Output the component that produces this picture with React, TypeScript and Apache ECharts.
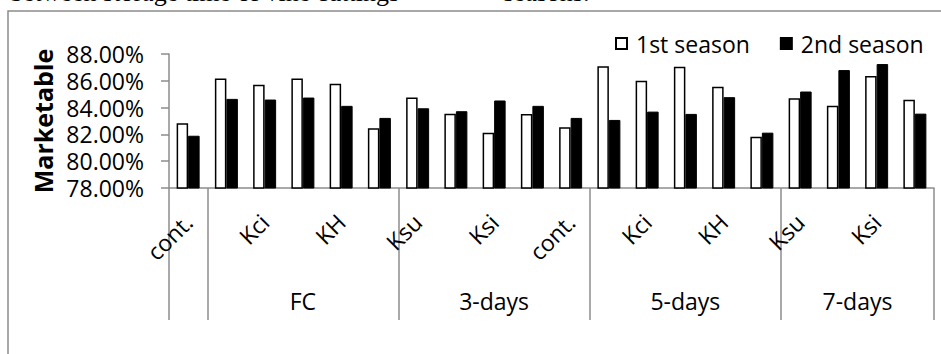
import React, { useEffect, useRef } from "react";
import * as echarts from "echarts";

// Inner category labels (every category; blanks are categories whose label Excel skipped)
const categories = [
  "cont.", "", "Kci", "", "KH", "", "Ksu", "", "Ksi", "",
  "cont.", "", "Kci", "", "KH", "", "Ksu", "", "Ksi", "",
];
// Outer level groups
const groupNames = ["", "FC", "3-days", "5-days", "7-days"];
const groupSizes = [1, 5, 5, 5, 4];

const season1 = [
  82.83, 86.18, 85.7, 86.18, 85.78, 82.45, 84.75, 83.55, 82.13, 83.53,
  82.53, 87.08, 86.0, 87.05, 85.55, 81.83, 84.7, 84.13, 86.35, 84.58,
];
const season2 = [
  81.9, 84.65, 84.6, 84.75, 84.13, 83.23, 83.95, 83.73, 84.53, 84.13,
  83.23, 83.08, 83.7, 83.53, 84.78, 82.13, 85.2, 86.8, 87.25, 83.55,
];
const seriesNames = ["1st season", "2nd season"];
const yTicks = { min: 78, max: 88, interval: 2 };

const FONT = "'Open Sans', sans-serif";
const AXIS_GRAY = "#8c8c8c";

export default function App() {
  const ref = useRef<HTMLDivElement>(null);

  useEffect(() => {
    if (!ref.current) return;
    const chart = echarts.init(ref.current, undefined, { renderer: "svg" });

    // Build the outer (group) axis on a half-category grid: 2*n+1 points
    const n = categories.length;
    const outerData: string[] = new Array(2 * n + 1).fill("");
    const boundaries = new Set<number>();
    let start = 0;
    boundaries.add(0);
    groupNames.forEach((g, i) => {
      const size = groupSizes[i];
      outerData[2 * start + size] = g;
      start += size;
      boundaries.add(2 * start);
    });

    chart.setOption({
      animation: false,
      graphic: [
        {
          type: "rect",
          shape: { x: 8, y: 11, width: 1000, height: 400 },
          style: { fill: "none", stroke: AXIS_GRAY, lineWidth: 1.5 },
          z: -1,
        },
        {
          type: "text",
          x: 10,
          y: 5,
          style: {
            text: "between storage time of vine cuttings",
            font: "26px 'Liberation Serif', serif",
            fill: "#000",
            verticalAlign: "bottom",
          },
        },
        {
          type: "text",
          x: 484,
          y: 5,
          style: {
            text: "– seasons.",
            font: "26px 'Liberation Serif', serif",
            fill: "#000",
            verticalAlign: "bottom",
          },
        },
      ],
      legend: {
        left: 610,
        top: 27,
        icon: "rect",
        itemWidth: 11,
        itemHeight: 11,
        itemGap: 30,
        data: seriesNames,
        textStyle: { fontFamily: FONT, fontSize: 23, color: "#000", padding: [0, 0, 0, 4] },
      },
      grid: { left: 169, right: 7, top: 54, bottom: 166, containLabel: false },
      xAxis: [
        {
          type: "category",
          data: categories,
          boundaryGap: true,
          axisLine: { lineStyle: { color: AXIS_GRAY, width: 1.5 } },
          axisTick: { interval: 0, length: 80, lineStyle: { color: AXIS_GRAY, width: 1.5 } },
          axisLabel: {
            interval: 1,
            rotate: 45,
            margin: 30,
            fontFamily: FONT,
            fontSize: 23,
            color: "#000",
          },
        },
        {
          type: "category",
          data: outerData,
          boundaryGap: false,
          position: "bottom",
          axisLine: { show: false },
          axisTick: {
            interval: (index: number) => boundaries.has(index),
            length: 132,
            lineStyle: { color: AXIS_GRAY, width: 1.5 },
          },
          axisLabel: {
            interval: (_i: number, v: string) => v !== "",
            margin: 101,
            fontFamily: FONT,
            fontSize: 23,
            color: "#000",
          },
        },
      ],
      yAxis: {
        type: "value",
        min: yTicks.min,
        max: yTicks.max,
        interval: yTicks.interval,
        name: "Marketable",
        nameLocation: "middle",
        nameRotate: 90,
        nameGap: 110,
        nameTextStyle: { fontFamily: FONT, fontSize: 25, fontWeight: "bold", color: "#000" },
        axisLine: { show: true, lineStyle: { color: AXIS_GRAY, width: 1.5 } },
        axisTick: { show: true, length: 8, lineStyle: { color: AXIS_GRAY, width: 1.5 } },
        splitLine: { show: false },
        axisLabel: {
          margin: 25,
          fontFamily: FONT,
          fontSize: 23,
          color: "#000",
          formatter: (v: number) => v.toFixed(2) + "%",
        },
      },
      series: [
        {
          name: seriesNames[0],
          type: "bar",
          data: season1,
          barWidth: 11.5,
          barGap: "0%",
          itemStyle: { color: "#fff", borderColor: "#000", borderWidth: 1.5 },
        },
        {
          name: seriesNames[1],
          type: "bar",
          data: season2,
          barWidth: 11.5,
          barGap: "0%",
          itemStyle: { color: "#000", borderColor: "#000", borderWidth: 1 },
        },
      ],
    });

    return () => chart.dispose();
  }, []);

  return (
    <div style={{ position: "absolute", left: 0, top: 0, width: 941, height: 354, overflow: "hidden", background: "#fff" }}>
      <div ref={ref} style={{ width: 941, height: 354 }} />
    </div>
  );
}
